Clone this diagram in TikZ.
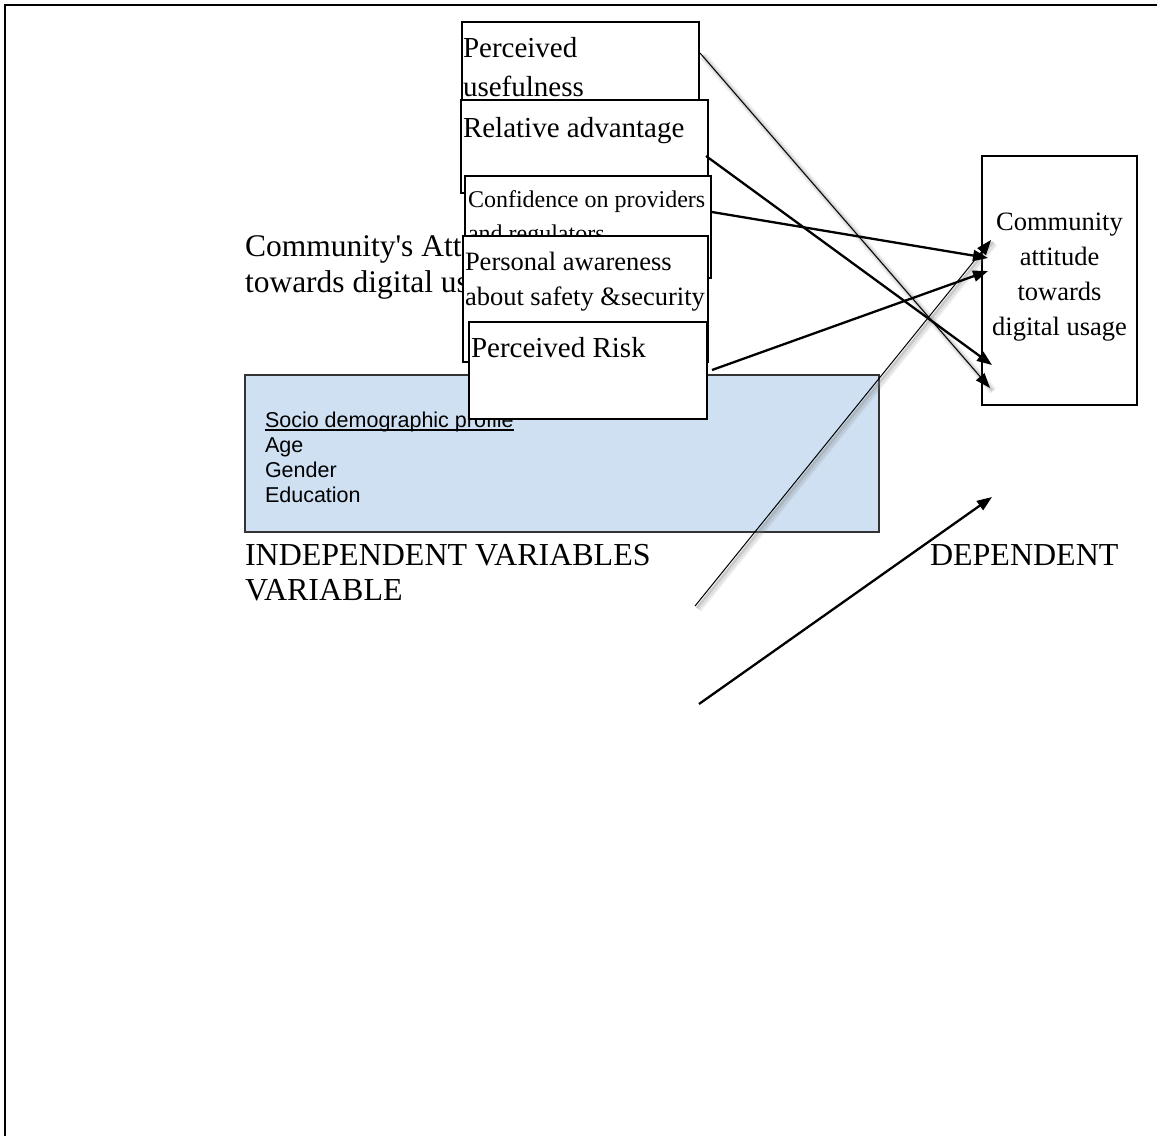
\documentclass[tikz,border=0pt]{standalone}
\usepackage{fontspec}
\setmainfont{Liberation Serif}[Ligatures=TeXOff]
\setsansfont{Liberation Sans}
\usetikzlibrary{arrows.meta,calc}
\definecolor{sociofill}{RGB}{206,224,242}
\newcommand\tb[5]{\parbox[t][#2pt][t]{#1pt}{\raggedright\leftskip=#3pt\relax\rule{0pt}{#4pt}#5}}
\newcommand\myul[1]{\setbox0\hbox{#1}\rlap{\rule[-3.5pt]{\wd0}{1.2pt}}\box0}
\tikzset{
  pageframe/.style={line width=2.2pt},
  cbox/.style={draw, line width=2.2pt, fill=white, anchor=north west, inner sep=0pt, outer sep=0pt},
  sociobox/.style={draw=black!80, line width=1.3pt, fill=sociofill, anchor=north west, inner sep=0pt, outer sep=0pt},
  lbl/.style={anchor=base west, inner sep=0pt, outer sep=0pt},
  conn/.style={line width=2.3pt, -{Triangle[length=15pt,width=11pt]}},
  thinconn/.style={line width=1pt, -{Triangle[length=15pt,width=11pt]}},
  shadowA/.style={line width=8pt, gray, opacity=0.10},
  shadowB/.style={line width=5pt, gray, opacity=0.15},
  shadowC/.style={line width=2.5pt, gray, opacity=0.25}
}
\begin{document}
\begin{tikzpicture}[x=1pt,y=-1pt]
\useasboundingbox (0,0) rectangle (1157,1136);
\draw[pageframe] (5,1136) -- (5,5) -- (1157,5);

% background title text (partly covered by boxes)
\node[lbl] (title) at (245,256) {\fontsize{31.5}{36}\selectfont\parbox[t]{300pt}{\raggedright Community's Attitude\\towards digital usage}};

% socio demographic box
\node[sociobox] (socio) at (245,375) {\sffamily\fontsize{21.5}{25.3}\selectfont\tb{634}{157}{20}{52}{\myul{Socio demographic profile}\\Age\\Gender\\Education}};

% stacked variable boxes
\node[cbox] (pu) at (462,22) {\fontsize{29}{39}\selectfont\tb{237}{140}{1}{35}{Perceived\\usefulness}};
\node[cbox] (ra) at (461,100) {\fontsize{29}{39}\selectfont\tb{247}{93}{2}{37}{Relative advantage}};
\node[cbox] (cp) at (465,176) {\fontsize{24}{34}\selectfont\tb{246}{102}{3}{31}{Confidence on providers\\and regulators}};
\node[cbox] (pa) at (463,236) {\fontsize{26.5}{35}\selectfont\tb{245}{126}{2}{34}{Personal awareness\\about safety \&security}};
\node[cbox] (pr) at (469,322) {\fontsize{29}{39}\selectfont\tb{238}{97}{2}{35}{Perceived Risk}};

% dependent variable box
\node[cbox] (ca) at (982,156) {\fontsize{26.5}{35}\selectfont\parbox[t][249pt][t]{155pt}{\centering\rule{0pt}{74pt}Community\\attitude\\towards\\digital usage}};

% labels
\node[lbl] (iv) at (245,565) {\fontsize{32}{35}\selectfont\parbox[t]{880pt}{\raggedright\makebox[685pt][l]{INDEPENDENT VARIABLES}DEPENDENT\\VARIABLE}};

% connector end points
\coordinate (puS) at ($(pu.north east)+(1,31)$);
\coordinate (puE) at ($(ca.north west)+(8,232)$);
\coordinate (raS) at ($(ra.north east)+(-2,56)$);
\coordinate (raE) at ($(ca.north west)+(10,209)$);
\coordinate (cpS) at ($(cp.north east)+(1,36)$);
\coordinate (cpE) at ($(ca.north west)+(6,102)$);
\coordinate (prS) at ($(pr.north east)+(5,48)$);
\coordinate (prE) at ($(ca.north west)+(6,115)$);
\coordinate (lowS) at (695,606);
\coordinate (lowE) at ($(ca.north west)+(9,84)$);
\coordinate (botS) at (699,704);
\coordinate (botE) at (992,497);

% shadowed thin connectors
\foreach \s/\e in {puS/puE, lowS/lowE}{
  \draw[shadowA] ($(\s)+(3,3)$) -- ($(\e)+(3,3)$);
  \draw[shadowB] ($(\s)+(3,3)$) -- ($(\e)+(3,3)$);
  \draw[shadowC] ($(\s)+(2,2)$) -- ($(\e)+(2,2)$);
}
\draw[thinconn] (puS) -- (puE);
\draw[thinconn] (lowS) -- (lowE);

% thick connectors
\draw[conn] (raS) -- (raE);
\draw[conn] (cpS) -- (cpE);
\draw[conn] (prS) -- (prE);
\draw[conn] (botS) -- (botE);
\end{tikzpicture}
\end{document}
